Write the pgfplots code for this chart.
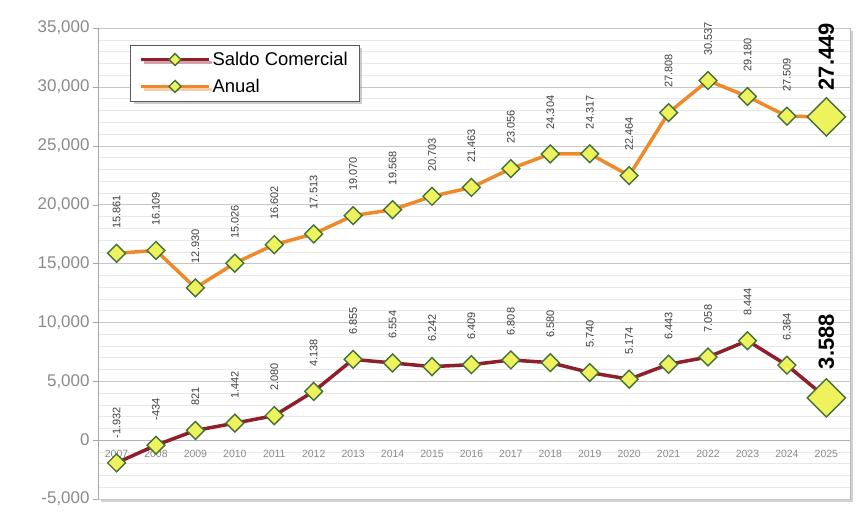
\documentclass[border=0pt]{standalone}
\usepackage{pgfplots}
\pgfplotsset{compat=1.18}
\usepackage{pgfplotstable}
\usepackage{fontspec}
\setmainfont{Liberation Sans}
\usetikzlibrary{shadows}

\definecolor{saldo}{HTML}{8E1F2B}
\definecolor{anual}{HTML}{EF8A2A}
\definecolor{mkfill}{HTML}{EEF25C}
\definecolor{mkdraw}{HTML}{46703A}
\definecolor{tickgray}{HTML}{8A8A8A}
\definecolor{lblgray}{HTML}{404040}

\pgfplotstableread{
x year saldo anual
0 2007 -1932 15861
1 2008 -434 16109
2 2009 821 12930
3 2010 1442 15026
4 2011 2080 16602
5 2012 4138 17513
6 2013 6855 19070
7 2014 6554 19568
8 2015 6242 20703
9 2016 6409 21463
10 2017 6808 23056
11 2018 6580 24304
12 2019 5740 24317
13 2020 5174 22464
14 2021 6443 27808
15 2022 7058 30537
16 2023 8444 29180
17 2024 6364 27509
18 2025 3588 27449
}\data

\begin{document}
\begin{tikzpicture}
\begin{axis}[
    name=ax,
    scale only axis,
    width=752bp, height=471bp,
    xmin=-0.47, xmax=18.6,
    ymin=-5000, ymax=35000,
    axis x line=middle, axis y line=left,
    x axis line style={gray!60,-},
    y axis line style={gray!70,-},
    axis background/.style={fill=white, draw=gray!55,
        drop shadow={shadow xshift=3bp, shadow yshift=-3bp, opacity=0.35}},
    xtick={0,...,18},
    xticklabels from table={\data}{year},
    major x tick style={draw=none},
    x tick label style={font=\fontsize{10.5}{12}\selectfont, text=tickgray, yshift=-2bp},
    ytick={-5000,0,...,35000},
    minor y tick num=4,
    minor tick length=0pt,
    tick align=outside,
    major tick length=5bp,
    y tick style={gray!70},
    ymajorgrids, yminorgrids,
    major grid style={gray!45},
    minor grid style={gray!18},
    scaled y ticks=false,
    y tick label style={font=\fontsize{17}{19}\selectfont, text=tickgray,
        /pgf/number format/1000 sep={,}},
    /pgf/number format/assume math mode=true,
    legend style={at={(0.043,0.964)}, anchor=north west, draw=gray!70!black,
        fill=white, drop shadow={shadow xshift=3bp, shadow yshift=-3bp, opacity=0.4},
        font=\fontsize{18.5}{20}\selectfont, inner xsep=9bp, inner ysep=5bp,
        row sep=8bp},
    legend cell align=left,
    legend image code/.code={
        \draw[#1, line width=3bp, mark size=4.2bp, mark repeat=2, mark phase=2]
            plot coordinates {(0bp,0bp) (34bp,0bp) (68bp,0bp)};
    },
    every node near coord/.append style={rotate=90, anchor=west,
        font=\fontsize{11}{12}\selectfont, text=lblgray, inner xsep=24bp},
    mark options={solid, fill=mkfill, draw=mkdraw, line width=1.4bp, rotate=45},
]
% lines with labels, 2007-2024
\addplot[saldo, line width=3.5bp, mark=square*, mark size=6.3bp,
    restrict x to domain=0:17,
    nodes near coords={\pgfmathprintnumber[fixed, precision=0, 1000 sep={.}]{\pgfplotspointmeta}}]
    table[x=x, y=saldo] {\data};
\addlegendentry{Saldo Comercial}
\addplot[anual, line width=3.5bp, mark=square*, mark size=6.3bp,
    restrict x to domain=0:17,
    nodes near coords={\pgfmathprintnumber[fixed, precision=0, 1000 sep={.}]{\pgfplotspointmeta}}]
    table[x=x, y=anual] {\data};
\addlegendentry{Anual}
% last segment to 2025
\addplot[saldo, line width=3.5bp, forget plot, restrict x to domain=17:18]
    table[x=x, y=saldo] {\data};
\addplot[anual, line width=3.5bp, forget plot, restrict x to domain=17:18]
    table[x=x, y=anual] {\data};
% highlighted 2025 points
\addplot[only marks, mark=square*, mark size=13.5bp, forget plot,
    restrict x to domain=18:18,
    nodes near coords={\pgfmathprintnumber[fixed, precision=0, 1000 sep={.}]{\pgfplotspointmeta}},
    every node near coord/.append style={font=\bfseries\fontsize{22}{24}\selectfont,
        text=black, inner xsep=28bp}]
    table[x=x, y=saldo] {\data};
\addplot[only marks, mark=square*, mark size=13.5bp, forget plot,
    restrict x to domain=18:18,
    nodes near coords={\pgfmathprintnumber[fixed, precision=0, 1000 sep={.}]{\pgfplotspointmeta}},
    every node near coord/.append style={font=\bfseries\fontsize{22}{24}\selectfont,
        text=black, inner xsep=26bp}]
    table[x=x, y=anual] {\data};
\end{axis}
\pgfresetboundingbox
\path[use as bounding box] ([xshift=-98bp,yshift=-14bp]ax.south west) rectangle ([xshift=10bp,yshift=28bp]ax.north east);
\end{tikzpicture}
\end{document}
